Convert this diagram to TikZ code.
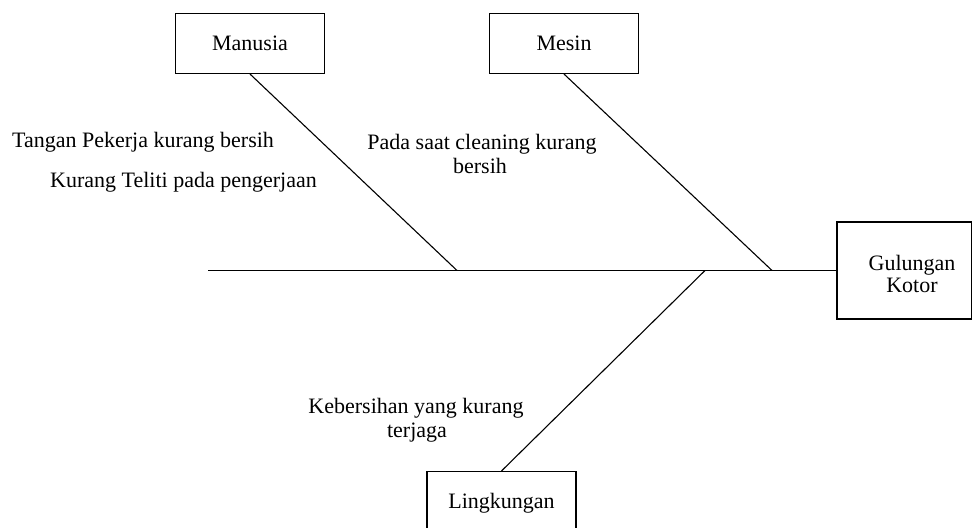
\documentclass[tikz,border=0pt]{standalone}
\usepackage{fontspec}
\setmainfont{Liberation Serif}
\begin{document}
\begin{tikzpicture}[x=1pt,y=-1pt,
  every node/.style={font=\fontsize{22}{24}\selectfont},
  line/.style={draw=black,line width=1.1pt},
  box/.style={draw=black,line width=1.1pt,minimum width=149pt,minimum height=60pt,inner sep=0pt,text height=15pt,text depth=2pt},
  lbl/.style={inner sep=0pt}]
\useasboundingbox (0,0) rectangle (973,527);
% boxes
\node[box] (man) at (250,43.5) {Manusia};
\node[box] (mes) at (564,43.5) {Mesin};
\node[box] (lin) at (501.5,501.5) {Lingkungan};
\node[box,minimum width=134.5pt,minimum height=97pt] (gk) at (904.25,270.5) {};
\node[lbl,anchor=base] (gk1) at (912,270) {Gulungan};
\node[lbl,anchor=base] (gk2) at (912,292) {Kotor};
% spine
\coordinate (tail) at (208,270.5);
\coordinate (j1) at (457,270.5);
\coordinate (j3) at (705,270.5);
\coordinate (j2) at (772,270.5);
\draw[line] (tail) -- (gk.west);
\draw[line] (man.south) -- (j1);
\draw[line] (mes.south) -- (j2);
\draw[line] (lin.north) -- (j3);
% cause labels
\node[lbl,anchor=base west] (t1) at (12,147) {Tangan Pekerja kurang bersih};
\node[lbl,anchor=base west] (t2) at (50,187) {Kurang Teliti pada pengerjaan};
\node[lbl,anchor=base] (t3a) at (482,149) {Pada saat cleaning kurang};
\node[lbl,anchor=base] (t3b) at (480,173) {bersih};
\node[lbl,anchor=base] (t4a) at (416,413) {Kebersihan yang kurang};
\node[lbl,anchor=base] (t4b) at (417,437) {terjaga};
\end{tikzpicture}
\end{document}
